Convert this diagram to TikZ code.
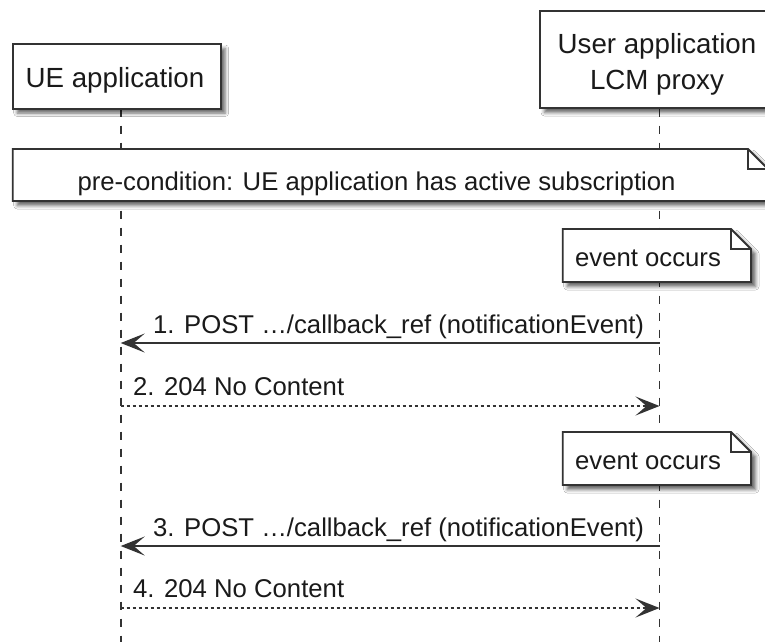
\documentclass[tikz,border=0pt]{standalone}
\usepackage{fontspec}
\setmainfont{Liberation Sans}
\usetikzlibrary{arrows.meta,shadows.blur}
\definecolor{ln}{HTML}{333333}
\definecolor{tx}{HTML}{1A1A1A}
\begin{document}
\begin{tikzpicture}[x=1pt,y=-1pt,
  shad/.style={blur shadow={shadow xshift=4.5pt,shadow yshift=-4.5pt,shadow blur radius=3.5pt,shadow opacity=60}},
  partbox/.style={draw=ln,line width=2pt,fill=white,shad,inner sep=0pt},
  parttext/.style={anchor=base,inner sep=0pt,text=tx,font=\fontsize{27.7}{33}\selectfont},
  notebody/.style={draw=ln,line width=1.8pt,fill=white,shad},
  notefold/.style={draw=ln,line width=1.8pt},
  lbl/.style={anchor=base west,inner sep=0pt,text=tx,font=\fontsize{25.7}{30}\selectfont},
  life/.style={draw=ln,line width=1.8pt,dash pattern=on 8pt off 9pt},
  msg/.style={draw=ln,line width=2pt,-{Stealth[length=24pt,width=19pt,inset=11pt]}},
  reply/.style={msg,line width=1.8pt,dash pattern=on 3pt off 3pt}
]
\useasboundingbox (0,0) rectangle (765,641);
\clip (0,0) rectangle (765,641);
\fill[white] (0,0) rectangle (765,641);

% lifelines
\coordinate (uetop) at (120.7,108.5);
\coordinate (uebot) at (120.7,645);
\coordinate (lcmtop) at (659.5,108.5);
\coordinate (lcmbot) at (659.5,645);
\draw[life] (uetop) -- (uebot);
\draw[life] (lcmtop) -- (lcmbot);

% participants
\node[partbox,minimum width=208pt,minimum height=64.5pt] (ue) at (116.7,76.25) {};
\node[parttext] (uet) at (115,87.3) {UE application};
\node[partbox,minimum width=231pt,minimum height=97.5pt] (lcm) at (655.5,59.25) {};
\node[parttext] (lcmt1) at (657,53.3) {User application};
\node[parttext] (lcmt2) at (657,89) {LCM proxy};

% pre-condition note
\draw[notebody] (12.7,149) -- (748,149) -- (768,169) -- (768,201) -- (12.7,201) -- cycle;
\draw[notefold] (748,149) -- (748,169) -- (768,169);
\node[lbl] (pre) at (77.3,190.7) {pre-condition: UE application has active subscription};

% event note 1
\draw[notebody] (562.7,229) -- (731,229) -- (751,249) -- (751,282) -- (562.7,282) -- cycle;
\draw[notefold] (731,229) -- (731,249) -- (751,249);
\node[lbl] (ev1) at (575,266.7) {event occurs};

% message 1
\coordinate (m1s) at (659.5,343);
\coordinate (m1e) at (120.7,343);
\draw[msg] (m1s) -- (m1e);
\node[lbl] (l1) at (153,333) {1. POST …/callback\_ref (notificationEvent)};

% message 2
\coordinate (m2s) at (120.7,406);
\coordinate (m2e) at (659.5,406);
\draw[reply] (m2s) -- (m2e);
\node[lbl] (l2) at (133,395) {2. 204 No Content};

% event note 2
\draw[notebody] (562.7,432) -- (731,432) -- (751,452) -- (751,485) -- (562.7,485) -- cycle;
\draw[notefold] (731,432) -- (731,452) -- (751,452);
\node[lbl] (ev2) at (575,469.7) {event occurs};

% message 3
\coordinate (m3s) at (659.5,546);
\coordinate (m3e) at (120.7,546);
\draw[msg] (m3s) -- (m3e);
\node[lbl] (l3) at (153,536) {3. POST …/callback\_ref (notificationEvent)};

% message 4
\coordinate (m4s) at (120.7,608);
\coordinate (m4e) at (659.5,608);
\draw[reply] (m4s) -- (m4e);
\node[lbl] (l4) at (133,597.5) {4. 204 No Content};
\end{tikzpicture}
\end{document}
